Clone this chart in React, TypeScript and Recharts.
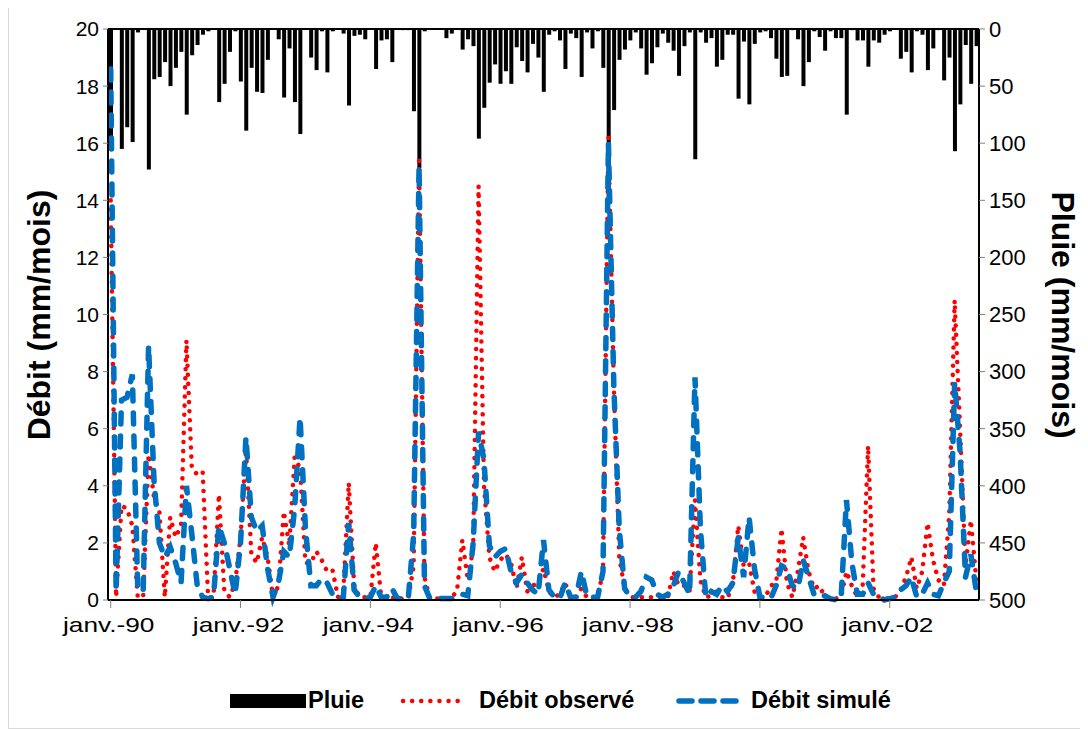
import { ComposedChart, Bar, Line, XAxis, YAxis, ReferenceLine } from "recharts";

const MONTHS = ["janv.", "févr.", "mars", "avr.", "mai", "juin", "juil.", "août", "sept.", "oct.", "nov.", "déc."];
const START_YEAR = 1990;

// Pluie mensuelle (mm/mois), janv. 1990 -> mai 2003
const pluie = [
  95, 0, 105, 86, 99, 3, 0, 123, 44, 42, 29, 50, 34, 20, 75, 23, 14, 5, 2, 0,
  64, 48, 20, 2, 46, 89, 34, 55, 56, 27, 0, 9, 60, 17, 64, 92, 0, 25, 36, 2,
  38, 2, 0, 4, 67, 6, 5, 9, 0, 35, 10, 9, 29, 0, 1, 1, 72, 122, 2, 0,
  0, 0, 8, 4, 0, 18, 9, 15, 96, 69, 47, 31, 48, 37, 48, 16, 28, 38, 13, 25,
  55, 5, 2, 10, 35, 4, 8, 42, 3, 17, 2, 34, 150, 71, 27, 18, 10, 3, 17, 40,
  30, 16, 4, 12, 19, 41, 15, 3, 114, 3, 12, 8, 33, 27, 5, 5, 61, 11, 66, 13,
  3, 2, 8, 26, 42, 41, 1, 9, 50, 29, 2, 7, 19, 2, 8, 8, 75, 1, 10, 10,
  33, 10, 12, 5, 2, 0, 26, 20, 38, 2, 5, 36, 17, 1, 45, 25, 107, 66, 14, 48,
  15,
];

// Débit observé (mm/mois)
const debitObserve = [
  14, 0.1, 3.3, 3.2, 2.6, 0.1, 0.1, 5.1, 3.6, 3.1, 0.1, 2.9, 2.2, 2.6, 9.1, 4.6, 4.4, 4.5, 0.1, 0.1,
  3.7, 0.3, 0.1, 0.6, 2.2, 5.3, 1.6, 1.3, 2.2, 1.5, 0.1, 0.5, 3.1, 1.9, 5.0, 4.6, 1.3, 1.3, 1.7, 1.4,
  1.0, 1.05, 0.1, 0.3, 4.1, 0.5, 0.1, 0.1, 0.1, 2.0, 0.1, 0.05, 0.1, 0, 0.05, 0.05, 1.2, 15.4, 0.8, 0.05,
  0.05, 0.05, 0.05, 0.1, 0.3, 2.1, 0.7, 1.8, 14.5, 4.0, 1.5, 1.0, 1.4, 1.6, 1.3, 0.4, 1.5, 0.3, 0.5, 0.6,
  1.1, 0.3, 0.1, 0.2, 0.6, 0.1, 0.1, 0.4, 0.1, 0.1, 0.1, 1.0, 16.2, 7.5, 1.5, 0.4, 0.1, 0.1, 0.1, 0.1,
  0.1, 0.1, 0.1, 0.1, 1.0, 0.5, 0.5, 0.3, 3.5, 0.7, 0.1, 0.15, 0.3, 0.1, 0.05, 0.6, 2.6, 1.2, 1.3, 0.3,
  0.1, 0.1, 0.5, 0.6, 2.5, 0.6, 0.1, 1.0, 2.2, 1.0, 0.4, 0.5, 0.1, 0.1, 0.05, 0.1, 1.0, 0.5, 0.1, 0.5,
  5.4, 0.4, 0.1, 0.05, 0.05, 0.1, 0.35, 0.8, 1.5, 0.4, 1.0, 2.7, 1.4, 0.7, 0.5, 3.0, 10.5, 6.0, 1.2, 2.8,
  0.7,
];

// Débit simulé (mm/mois)
const debitSimule = [
  18.6, 0.3, 7.0, 7.1, 7.9, 0.4, 0.3, 8.9, 4.2, 2.0, 1.5, 1.85, 1.3, 0.6, 4.0, 2.3, 0.5, 0.1, 0.05, 0.1,
  2.6, 2.0, 1.1, 0.2, 2.0, 5.7, 2.9, 2.4, 2.6, 1.1, 0.1, 0.6, 1.7, 1.5, 3.2, 6.4, 2.5, 0.5, 0.5, 0.75,
  0.6, 0.2, 0.05, 0.1, 2.7, 0.35, 0.1, 0.05, 0.1, 0.5, 0.1, 0.1, 0.4, 0.05, 0.05, 0.05, 2.3, 15.2, 0.5, 0.05,
  0.05, 0.05, 0.05, 0.05, 0.1, 0.2, 0.15, 2.0, 5.9, 4.9, 1.9, 1.5, 1.7, 1.8, 1.0, 0.6, 0.9, 0.6, 0.35, 0.2,
  2.1, 0.35, 0.1, 0.05, 0.6, 0.1, 0.1, 1.0, 0.15, 0.1, 0.1, 1.0, 16.0, 7.5, 2.5, 0.4, 0.1, 0.1, 0.3, 0.8,
  0.7, 0.2, 0.1, 0.2, 0.5, 1.0, 0.6, 0.2, 7.8, 2.5, 0.1, 0.3, 0.2, 0.5, 0.3, 0.6, 2.2, 0.8, 2.9, 1.1,
  0.1, 0.1, 0.05, 0.5, 1.2, 1.1, 0.5, 0.4, 1.4, 0.8, 0.2, 0.1, 0.15, 0.05, 0, 0.05, 3.5, 1.3, 0.2, 0.2,
  0.6, 0.2, 0.15, 0, 0.05, 0.1, 0.35, 0.5, 0.8, 0.1, 0.2, 0.6, 0.2, 0.15, 0.6, 1.0, 7.6, 5.2, 0.8, 1.6,
  0.3,
];

const debitTicks = [0, 2, 4, 6, 8, 10, 12, 14, 16, 18, 20];
const pluieTicks = [0, 50, 100, 150, 200, 250, 300, 350, 400, 450, 500];

const mois = pluie.map(
  (_, i) => `${MONTHS[i % 12]}-${String((START_YEAR + Math.floor(i / 12)) % 100).padStart(2, "0")}`
);

const data = mois.map((m, i) => ({
  mois: m,
  pluie: pluie[i],
  obs: debitObserve[i],
  sim: debitSimule[i],
}));

const FONT = "'Liberation Sans', Arial, sans-serif";
const tickStyle = { fill: "#000", fontSize: 21, fontFamily: FONT };

// x labels are drawn a bit wider than the y ones in the original
function MonthTick({ x, y, payload }: any) {
  return (
    <g transform={`translate(${x - 2},${y})`}>
      <text
        transform="scale(1.25,1)"
        y={22}
        textAnchor="middle"
        fill="#000"
        fontSize={21}
        fontFamily={FONT}
      >
        {payload.value}
      </text>
    </g>
  );
}

export default function App() {
  return (
    <div
      style={{
        position: "relative",
        width: 1072,
        height: 721,
        fontFamily: FONT,
        borderLeft: "1px solid #d9d9d9",
        borderBottom: "1px solid #d9d9d9",
        boxSizing: "border-box",
      }}
    >
      <ComposedChart
        width={1072}
        height={722}
        data={data}
        margin={{ top: 21, right: 40, bottom: 80, left: 40 }}
        barSize={4}
        barGap={0}
      >
        <XAxis
          dataKey="mois"
          interval={23}
          tick={<MonthTick />}
          tickSize={8}
          height={50}
          axisLine={{ stroke: "#000", strokeWidth: 2 }}
          tickLine={{ stroke: "#808080" }}
        />
        <YAxis
          yAxisId="debit"
          domain={[0, 20]}
          ticks={debitTicks}
          width={59}
          tick={tickStyle}
          tickSize={5}
          tickMargin={4}
          axisLine={{ stroke: "#000", strokeWidth: 2 }}
          tickLine={{ stroke: "#808080" }}
        />
        <YAxis
          yAxisId="pluie"
          orientation="right"
          reversed
          domain={[0, 500]}
          ticks={pluieTicks}
          width={62}
          tick={{ ...tickStyle, fontSize: 22 }}
          tickSize={6}
          tickMargin={4}
          axisLine={{ stroke: "#000", strokeWidth: 2 }}
          tickLine={{ stroke: "#808080" }}
        />
        <Bar yAxisId="pluie" dataKey="pluie" name="Pluie" fill="#000" isAnimationActive={false} />
        <Line
          yAxisId="debit"
          type="linear"
          dataKey="obs"
          name="Débit observé"
          stroke="#ff0000"
          strokeWidth={4.5}
          strokeDasharray="0.1 9"
          strokeLinecap="round"
          dot={false}
          isAnimationActive={false}
        />
        <Line
          yAxisId="debit"
          type="linear"
          dataKey="sim"
          name="Débit simulé"
          stroke="#0070c0"
          strokeWidth={5.5}
          strokeDasharray="11 12"
          strokeLinecap="round"
          dot={false}
          isAnimationActive={false}
        />
        <ReferenceLine yAxisId="pluie" y={0} stroke="#000" strokeWidth={2} />
      </ComposedChart>

      <div
        style={{
          position: "absolute",
          left: 30,
          top: 307,
          transform: "translate(-50%, -50%) rotate(-90deg)",
          whiteSpace: "nowrap",
          fontWeight: "bold",
          fontSize: 32,
        }}
      >
        Débit (mm/mois)
      </div>
      <div
        style={{
          position: "absolute",
          left: 1053,
          top: 307,
          transform: "translate(-50%, -50%) rotate(90deg)",
          whiteSpace: "nowrap",
          fontWeight: "bold",
          fontSize: 32,
        }}
      >
        Pluie (mm/mois)
      </div>

      <div style={{ position: "absolute", left: 0, top: 679, width: 1072, height: 28, fontWeight: "bold", fontSize: 23.5 }}>
        <svg style={{ position: "absolute", left: 221, top: 7 }} width={76} height={14}>
          <rect x={0} y={0} width={76} height={14} fill="#000" />
        </svg>
        <span style={{ position: "absolute", left: 299, top: 0 }}>Pluie</span>
        <svg style={{ position: "absolute", left: 390, top: 4 }} width={66} height={20}>
          <line x1={4} y1={10} x2={62} y2={10} stroke="#ff0000" strokeWidth={4.5} strokeDasharray="0.1 9" strokeLinecap="round" />
        </svg>
        <span style={{ position: "absolute", left: 470, top: 0 }}>Débit observé</span>
        <svg style={{ position: "absolute", left: 666, top: 4 }} width={66} height={20}>
          <line x1={4} y1={10} x2={62} y2={10} stroke="#0070c0" strokeWidth={5.5} strokeDasharray="13 9" strokeLinecap="round" />
        </svg>
        <span style={{ position: "absolute", left: 742, top: 0 }}>Débit simulé</span>
      </div>
    </div>
  );
}
